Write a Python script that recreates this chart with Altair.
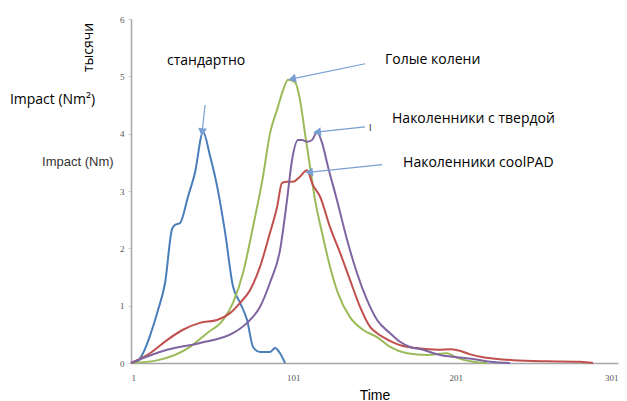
import altair as alt
import pandas as pd

# ---- series data (time, impact in thousands) ----
std_t = [1, 5, 8.4, 13, 17.6, 22, 26.3, 28.1, 31.2, 36.1, 40.4, 45.4, 49.7, 54, 58.9, 63.8, 68.2, 72.5, 76.2, 80.5, 86.6, 89.7, 92.8, 95.9]
std_y = [0, 0.03, 0.17, 0.5, 0.92, 1.40, 2.34, 2.41, 2.44, 2.90, 3.32, 4.03, 3.61, 3.09, 2.29, 1.34, 1.05, 0.75, 0.28, 0.19, 0.19, 0.26, 0.17, 0]

bare_t = [1, 17.6, 37.4, 47.8, 57.7, 63.8, 70, 76.2, 82.3, 86.6, 91, 94.7, 97.7, 102, 105.1, 108.2, 111.3, 114.4, 118.7, 123.6, 128.5, 135.9, 143.9, 152.6, 160.6, 171.1, 183.4, 195.7, 201.9, 211.7, 220.3]
bare_y = [0, 0.05, 0.28, 0.52, 0.75, 1.05, 1.57, 2.38, 3.25, 4.0, 4.42, 4.76, 4.94, 4.9, 4.59, 4.0, 3.42, 2.84, 2.27, 1.68, 1.22, 0.80, 0.58, 0.45, 0.28, 0.17, 0.14, 0.17, 0.09, 0.02, 0]

cool_t = [1, 12.7, 23.2, 33, 43.5, 54, 62, 68.2, 74.3, 80.5, 86.6, 91, 94, 97.1, 100.8, 105.1, 109.4, 113.1, 117.5, 123.6, 129.8, 135.9, 142.1, 148.3, 152.6, 156.3, 162.4, 168, 177, 190, 198, 204, 210, 218, 226.5, 236.4, 257.3, 277.6, 285.6]
cool_y = [0, 0.17, 0.40, 0.58, 0.70, 0.75, 0.87, 1.05, 1.27, 1.68, 2.27, 2.72, 3.14, 3.16, 3.16, 3.25, 3.36, 3.1, 2.9, 2.37, 1.92, 1.45, 0.98, 0.63, 0.52, 0.45, 0.36, 0.30, 0.26, 0.23, 0.24, 0.21, 0.15, 0.10, 0.07, 0.05, 0.03, 0.02, 0]

hard_t = [1, 23.2, 43.5, 63.8, 72.5, 80.5, 86.6, 92.8, 97.1, 100.2, 103.9, 106.4, 109.4, 112.5, 115.6, 118.7, 122.4, 127.9, 134.1, 140.2, 146.4, 152.6, 160.6, 166.7, 172.9, 180.9, 191.4, 201.9, 211.7, 222.2, 234.5]
hard_y = [0, 0.23, 0.35, 0.52, 0.70, 0.98, 1.40, 1.97, 2.84, 3.54, 3.89, 3.89, 3.86, 3.89, 4.03, 3.84, 3.42, 2.84, 2.15, 1.57, 1.10, 0.75, 0.52, 0.37, 0.28, 0.23, 0.14, 0.10, 0.07, 0.02, 0]

series_names = ["стандартно", "Голые колени", "Наколенники coolPAD", "Наколенники с твердой"]
series_colors = ["#4a7ebb", "#9bbb59", "#c0504d", "#8064a2"]

x_ticks = [1, 101, 201, 301]
y_ticks = [0, 1, 2, 3, 4, 5, 6]

# ---- annotations ----
ann_text = ["стандартно", "Голые колени", "Наколенники с твердой", "Наколенники coolPAD", "I"]
ann_x = [23.2, 157.5, 161.8, 168.6, 147.6]
ann_y = [5.27, 5.29, 4.26, 3.49, 4.10]
ann_size = [14, 14, 14, 14, 9]

arrow_x1 = [46.6, 145.2, 145.2, 155.7]
arrow_y1 = [4.50, 5.22, 4.12, 3.46]
arrow_x2 = [44.9, 101.0, 116.4, 111.5]
arrow_y2 = [4.05, 4.96, 4.03, 3.33]
arrow_ang = [186.8, 258.2, 263.9, 264.4]

side_text = ["Impact (Nm²)", "Impact (Nm)"]
side_x = [-73.6, -53.8]
side_y = [4.59, 3.51]

rows = []
for name, ts, ys in zip(series_names, [std_t, bare_t, cool_t, hard_t], [std_y, bare_y, cool_y, hard_y]):
    for i, (t, y) in enumerate(zip(ts, ys)):
        rows.append({"series": name, "t": t, "v": y, "i": i})
df = pd.DataFrame(rows)

ann_df = pd.DataFrame({"label": ann_text, "t": ann_x, "v": ann_y, "s": ann_size})
arr_df = pd.DataFrame({"t": arrow_x1, "v": arrow_y1, "t2": arrow_x2, "v2": arrow_y2, "ang": arrow_ang})

xscale = alt.Scale(domain=[1, 301], nice=False, zero=False)
yscale = alt.Scale(domain=[0, 6], nice=False)

lines = alt.Chart(df).mark_line(interpolate="monotone", strokeWidth=2).encode(
    x=alt.X("t:Q", scale=xscale,
            axis=alt.Axis(values=x_ticks, format="d", title="Time", grid=False, ticks=False,
                          labelFont="Liberation Serif", labelFontSize=9, labelColor="#555555",
                          labelPadding=10, domainColor="#a6a6a6", domainWidth=1.5,
                          titleFont="Liberation Sans", titleFontSize=14, titleFontWeight="normal",
                          titleColor="#000000", titleY=25, titleBaseline="top")),
    y=alt.Y("v:Q", scale=yscale,
            axis=alt.Axis(values=y_ticks, format="d", title="тысячи", grid=False, ticks=True, tickSize=3,
                          tickColor="#d0d0d0",
                          labelFont="Liberation Serif", labelFontSize=9, labelColor="#555555",
                          labelPadding=4, domainColor="#a6a6a6", domainWidth=1.5,
                          titleFont="Open Sans", titleFontSize=14, titleFontWeight="normal",
                          titleColor="#000000", titleAngle=270, titleX=-43, titleY=28,
                          titleAlign="center", titleBaseline="middle")),
    color=alt.Color("series:N", scale=alt.Scale(domain=series_names, range=series_colors), legend=None),
    order="i:Q",
)

arrows = alt.Chart(arr_df).mark_rule(color="#7a9fd3", strokeWidth=1.2).encode(
    x="t:Q", y="v:Q", x2="t2:Q", y2="v2:Q"
)
heads = alt.Chart(arr_df).mark_point(shape="triangle", filled=True, fill="#7a9fd3", stroke="#7a9fd3",
                                     size=30, opacity=1).encode(
    x="t2:Q", y="v2:Q", angle=alt.Angle("ang:Q", scale=None)
)

texts = alt.Chart(ann_df).mark_text(align="left", baseline="middle", font="Open Sans", color="#000000").encode(
    x="t:Q", y="v:Q", text="label:N", size=alt.Size("s:Q", scale=None)
)

side1 = alt.Chart(pd.DataFrame({"label": [side_text[0]], "t": [side_x[0]], "v": [side_y[0]]})).mark_text(
    align="left", baseline="middle", font="Open Sans", fontSize=14, color="#000000"
).encode(x="t:Q", y="v:Q", text="label:N")
side2 = alt.Chart(pd.DataFrame({"label": [side_text[1]], "t": [side_x[1]], "v": [side_y[1]]})).mark_text(
    align="left", baseline="middle", font="Liberation Sans", fontSize=13, color="#333333"
).encode(x="t:Q", y="v:Q", text="label:N")

chart = alt.layer(lines, arrows, heads, texts, side1, side2).properties(
    width=487, height=344,
    autosize=alt.AutoSizeParams(type="none"),
    padding={"left": 123, "top": 11, "right": 1, "bottom": 38},
    background="white",
).configure_view(stroke=None)

chart.save("out.html", embed_options={"renderer": "svg", "actions": False})
